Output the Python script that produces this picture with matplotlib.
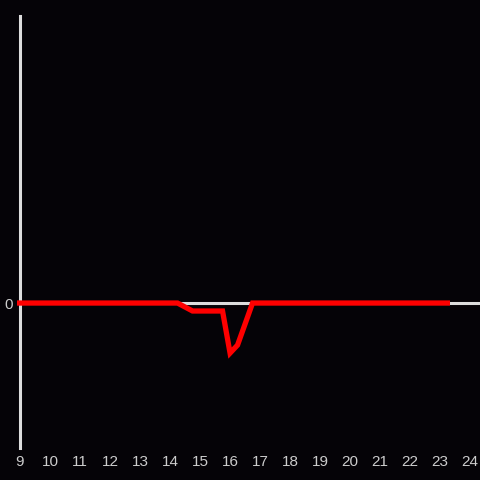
import matplotlib
matplotlib.use("Agg")
import matplotlib.pyplot as plt

# hours of day and values (relative units)
hours = [8.9, 14.25, 14.75, 15.75, 16.0, 16.25, 16.75, 23.33]
values = [0.0, 0.0, -0.055, -0.055, -0.345, -0.29, 0.0, 0.0]
xticks = list(range(9, 25))

bg = "#050307"
fig = plt.figure(figsize=(4.8, 4.8), dpi=100, facecolor=bg)
ax = fig.add_axes([20 / 480, 32 / 480, 460 / 480, 432 / 480], facecolor=bg)

ax.axhline(0, color="#dddddd", lw=2.2, zorder=1)
ax.plot(hours, values, color="#ff0000", lw=3.8, solid_joinstyle="miter",
        solid_capstyle="butt", zorder=4, clip_on=False)

ax.set_xlim(9, 24.33)
ax.set_ylim(-1, 1.98)
ax.set_xticks(xticks)
ax.set_xticklabels([str(h) for h in xticks])
ax.set_yticks([0])
ax.set_yticklabels(["0"])
ax.tick_params(length=0, colors="#cccccc", labelsize=11, pad=5)
for lab in ax.get_xticklabels() + ax.get_yticklabels():
    lab.set_fontfamily("Liberation Sans")

for side in ["top", "right", "bottom"]:
    ax.spines[side].set_visible(False)
ax.spines["left"].set_color("#dddddd")
ax.spines["left"].set_linewidth(2.2)
ax.spines["left"].set_zorder(2)

fig.savefig("out.png", dpi=100, facecolor=bg)
